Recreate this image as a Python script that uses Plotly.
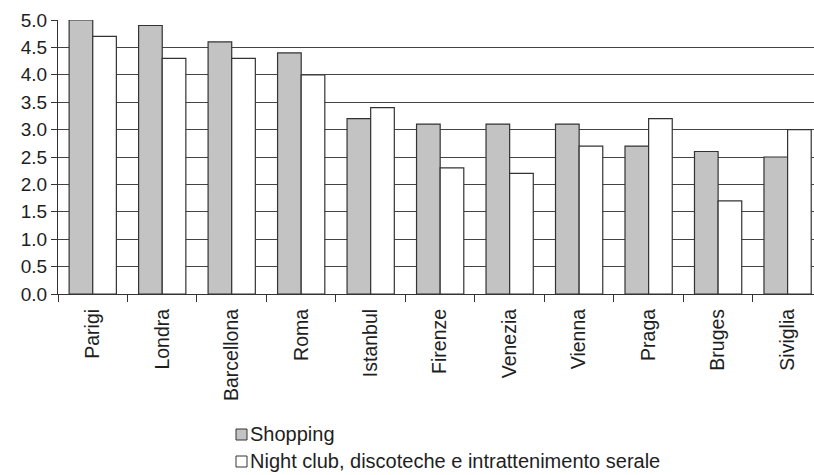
import plotly.graph_objects as go

# City ratings for two tourism aspects
cities = ["Parigi", "Londra", "Barcellona", "Roma", "Istanbul", "Firenze",
          "Venezia", "Vienna", "Praga", "Bruges", "Siviglia"]
shopping = [5.0, 4.9, 4.6, 4.4, 3.2, 3.1, 3.1, 3.1, 2.7, 2.6, 2.5]
nightlife = [4.7, 4.3, 4.3, 4.0, 3.4, 2.3, 2.2, 2.7, 3.2, 1.7, 3.0]
y_ticks = [0.0, 0.5, 1.0, 1.5, 2.0, 2.5, 3.0, 3.5, 4.0, 4.5, 5.0]
series_names = ["Shopping", "Night club, discoteche e intrattenimento serale"]

FONT = "Liberation Sans, Arial, sans-serif"
EDGE = "#333333"
TEXT = "#1e1e1e"
FILLS = ["#c3c3c3", "#ffffff"]

W, H = 814, 475
ML, MT, MB = 58, 20, 181
PW, PH = W - ML, H - MT - MB

fig = go.Figure()
for name, vals, fill in zip(series_names, [shopping, nightlife], FILLS):
    fig.add_trace(go.Bar(
        x=cities, y=vals, name=name, showlegend=False,
        marker=dict(color=fill, line=dict(color=EDGE, width=1.2)),
    ))

# Legend drawn below the axis: a swatch and a label per series
def px_x(px):
    return (px - ML) / PW

def px_y(py):
    return (H - MB - py) / PH

shapes, annotations = [], []
for i, (name, fill) in enumerate(zip(series_names, FILLS)):
    cy = 434 + i * 27
    shapes.append(dict(
        type="rect", xref="paper", yref="paper",
        x0=px_x(236), x1=px_x(247), y0=px_y(cy + 6), y1=px_y(cy - 5),
        fillcolor=fill, line=dict(color=EDGE, width=1),
    ))
    annotations.append(dict(
        text=name, xref="paper", yref="paper", x=px_x(248), y=px_y(cy),
        xanchor="left", yanchor="middle", showarrow=False,
        font=dict(size=20, family=FONT, color=TEXT),
    ))

fig.update_layout(
    width=W, height=H,
    margin=dict(l=ML, r=0, t=MT, b=MB, autoexpand=False),
    paper_bgcolor="white", plot_bgcolor="white",
    barmode="group", bargap=0.32, bargroupgap=0,
    font=dict(family=FONT, color=TEXT),
    showlegend=False,
    shapes=shapes, annotations=annotations,
)
fig.update_xaxes(
    type="category", range=[-0.5, 10.38],
    tickson="boundaries", ticks="outside", ticklen=7, tickcolor=EDGE,
    tickangle=-90, tickfont=dict(size=19.5, family=FONT, color=TEXT),
    ticklabelstandoff=6,
    showline=True, linecolor=EDGE, linewidth=1.2,
    showgrid=False, zeroline=False,
)
fig.update_yaxes(
    range=[0, 5], tickvals=y_ticks,
    ticktext=[f"{v:.1f}" for v in y_ticks],
    ticks="outside", ticklen=6, tickcolor=EDGE,
    tickfont=dict(size=19, family=FONT, color=TEXT),
    showline=True, linecolor=EDGE, linewidth=1.2,
    showgrid=True, gridcolor="#444444", gridwidth=1,
    zeroline=False,
)

fig.write_html("out.html")
